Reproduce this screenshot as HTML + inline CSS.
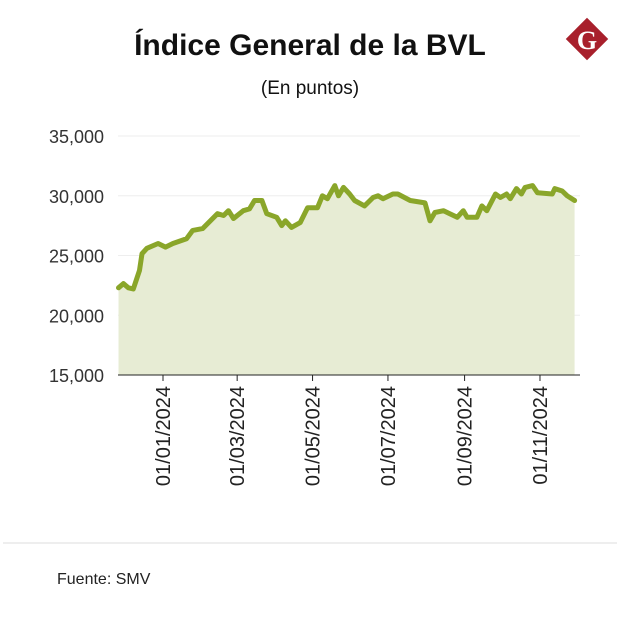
<!DOCTYPE html>
<html><head><meta charset="utf-8">
<style>
body{margin:0;background:#fff;width:620px;height:616px;overflow:hidden;font-family:"Liberation Sans",sans-serif;}
</style></head><body>
<svg width="620" height="616" id="svg" xmlns="http://www.w3.org/2000/svg">
<text x="310" y="55" text-anchor="middle" font-size="30" font-weight="bold" fill="#111">Índice General de la BVL</text>
<text x="310" y="94" text-anchor="middle" font-size="19" fill="#111">(En puntos)</text>
<g>
<rect x="572" y="24" width="30" height="30" fill="#a8202c" transform="rotate(45 587 39)"/>
<text x="587" y="49" text-anchor="middle" font-size="26" font-weight="bold" font-family="Liberation Serif,serif" fill="#fff">G</text>
</g>
<line x1="3" y1="543" x2="617" y2="543" stroke="#ddd"/>
<text x="57" y="584" font-size="16" fill="#222">Fuente: SMV</text>
<g id="plot"></g>
</svg>
<script>
const yTicks=[15000,20000,25000,30000,35000];
const yTickLabels=["15,000","20,000","25,000","30,000","35,000"];
const xTickDays=[0,60,121,182,244,305];
const xTickLabels=["01/01/2024","01/03/2024","01/05/2024","01/07/2024","01/09/2024","01/11/2024"];
const days=[-36,-32,-28,-24,-19,-17,-13,-4,2,8,19,24,32,44,49,53,57,65,70,74,80,84,92,96,99,104,111,117,125,129,133,139,142,146,151,155,163,170,174,178,186,190,200,212,216,220,227,232,238,243,246,254,258,262,269,273,278,281,286,290,293,299,303,315,317,323,327,333];
const values=[22300,22650,22300,22200,23750,25150,25600,26000,25700,26000,26400,27100,27250,28500,28350,28750,28100,28750,28900,29600,29600,28500,28200,27500,27900,27350,27750,29000,29000,30000,29750,30850,30000,30700,30150,29600,29150,29850,30000,29750,30150,30150,29600,29400,27900,28600,28750,28500,28200,28750,28200,28200,29150,28750,30150,29850,30150,29750,30600,30150,30700,30850,30250,30150,30600,30400,30000,29600];
const NS="http://www.w3.org/2000/svg";
const g=document.getElementById('plot');
const xS=d=>163+(d)*1.236;
const yS=v=>375-(v-15000)*0.01195;
function mk(t,a){const e=document.createElementNS(NS,t);for(const k in a)e.setAttribute(k,a[k]);g.appendChild(e);return e;}
yTicks.forEach((v,i)=>{
 if(i>0){const l=mk('line',{x1:118,x2:580,y1:yS(v),y2:yS(v),stroke:'#eee','stroke-width':1});
 
 }
 const t=mk('text',{x:104,y:yS(v)+7,'text-anchor':'end','font-size':18,fill:'#333'});
 t.textContent=yTickLabels[i];
 
 
});
let d='M'+xS(days[0])+','+yS(15000);
days.forEach((x,i)=>{d+=' L'+xS(x).toFixed(1)+','+yS(values[i]).toFixed(1);});
d+=' L'+xS(days[days.length-1])+','+yS(15000)+'Z';
const area=mk('path',{d:d,fill:'#e7ecd4'});


let ld='';
days.forEach((x,i)=>{ld+=(i?' L':'M')+xS(x).toFixed(1)+','+yS(values[i]).toFixed(1);});
const line=mk('path',{d:ld,fill:'none',stroke:'#8aa62a','stroke-width':5,'stroke-linejoin':'round','stroke-linecap':'round'});


const ax=mk('line',{x1:118,x2:580,y1:375,y2:375,stroke:'#222','stroke-width':1});


xTickDays.forEach((dd,i)=>{
 const x=xS(dd);
 const tk=mk('line',{x1:x,x2:x,y1:375,y2:381,stroke:'#222'});
 
 
 const t=mk('text',{x:x+7,y:386,'text-anchor':'end','font-size':20,fill:'#222',transform:`rotate(-90 ${x+7} 386)`});
 t.textContent=xTickLabels[i];
 
 
});
</script>
</body></html>
